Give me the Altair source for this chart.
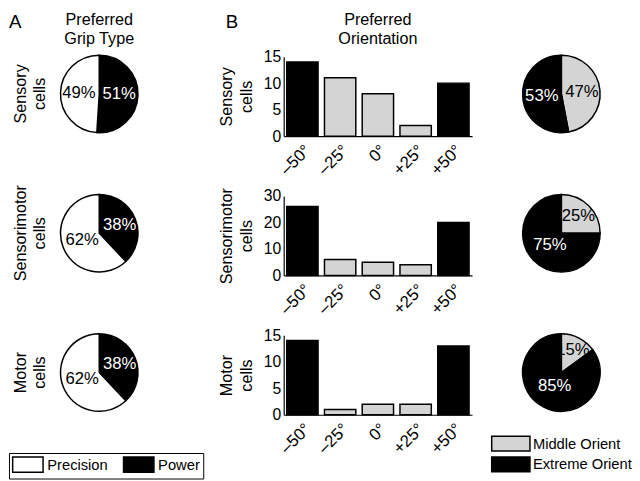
import altair as alt
import pandas as pd

FONT = "Liberation Sans"

# ---------------- data ----------------
rows = ["Sensory", "Sensorimotor", "Motor"]

angles = ["–50°", "–25°", "0°", "+25°", "+50°"]
angle_type = ["Extreme Orient", "Middle Orient", "Middle Orient", "Middle Orient", "Extreme Orient"]
sensory_counts = [14, 11, 8, 2, 10]
sensorimotor_counts = [26, 6, 5, 4, 20]
motor_counts = [14, 1, 2, 2, 13]
counts = {"Sensory": sensory_counts, "Sensorimotor": sensorimotor_counts, "Motor": motor_counts}
y_ticks = {"Sensory": [0, 5, 10, 15], "Sensorimotor": [0, 10, 20, 30], "Motor": [0, 5, 10, 15]}

grip_cats = ["Power", "Precision"]          # stacking order (clockwise from 12 o'clock)
grip_legend = ["Precision", "Power"]
grip_pct = {"Sensory": [51, 49], "Sensorimotor": [38, 62], "Motor": [38, 62]}

orient_cats = ["Middle Orient", "Extreme Orient"]
orient_pct = {"Sensory": [47, 53], "Sensorimotor": [25, 75], "Motor": [15, 85]}

panel_letters = ["A", "B"]
panel_titles = ["Preferred\nGrip Type", "Preferred\nOrientation"]

GRAY = "#d4d4d4"


def letter_layer(letter, x):
    return alt.Chart(pd.DataFrame({"t": [letter]})).mark_text(
        fontSize=19, font=FONT, align="left", baseline="top", color="black"
    ).encode(text="t:N", x=alt.value(x), y=alt.value(-44))


def title_layer(title, x):
    return alt.Chart(pd.DataFrame({"t": [title]})).mark_text(
        fontSize=16.5, font=FONT, align="center", baseline="top", lineBreak="\n",
        lineHeight=19, color="black"
    ).encode(text="t:N", x=alt.value(x), y=alt.value(-45))


def pie(row, cats, pcts, domain, rng, dark, legend, extra=(), row_label=False):
    df = pd.DataFrame({
        "cat": cats,
        "pct": pcts,
        "idx": list(range(len(cats))),
        "lab": [f"{p}%" for p in pcts],
    })
    base = alt.Chart(df).encode(
        theta=alt.Theta("pct:Q", stack=True),
        order=alt.Order("idx:Q"),
    )
    arc = base.mark_arc(outerRadius=39.5, stroke="black", strokeWidth=1.5).encode(
        color=alt.Color("cat:N", scale=alt.Scale(domain=domain, range=rng), legend=legend)
    )
    # small slices get their label a little further out, as in the original
    txt = base.mark_text(fontSize=17, font=FONT).encode(
        text=alt.Text("lab:N"),
        radius=alt.Radius("pct:Q", scale=alt.Scale(type="linear", zero=False,
                                                   domain=[15, 85], range=[26, 15])),
        color=alt.condition(alt.datum.cat == dark, alt.value("white"), alt.value("black")),
    )
    layers = [arc, txt]
    if row_label:
        layers.append(
            alt.Chart(pd.DataFrame({"t": [row + "\ncells"]})).mark_text(
                angle=270, lineBreak="\n", lineHeight=20, fontSize=16.5, font=FONT,
                align="center", baseline="middle", color="black"
            ).encode(text="t:N", x=alt.value(-40), y=alt.value(38))
        )
    layers += list(extra)
    return alt.layer(*layers).properties(width=80, height=76)


def bars(row, extra=()):
    df = pd.DataFrame({"angle": angles, "n": counts[row], "type": angle_type})
    b = alt.Chart(df).mark_bar(stroke="black", strokeWidth=1.5).encode(
        x=alt.X("angle:N", sort=angles,
                scale=alt.Scale(paddingInner=0.17, paddingOuter=0.08),
                axis=alt.Axis(title=None, labelAngle=-45, ticks=False, tickSize=0,
                              labelPadding=6, labelFontSize=17, domainWidth=1.2)),
        y=alt.Y("n:Q", scale=alt.Scale(domain=[0, y_ticks[row][-1]], nice=False),
                axis=alt.Axis(values=y_ticks[row], title=[row, "cells"], ticks=False, tickSize=0,
                              labelPadding=3, labelFontSize=16, titleFontSize=16.5,
                              titleFontWeight="normal", titleLineHeight=20, titlePadding=9,
                              domainWidth=1.2)),
        color=alt.Color("type:N", scale=alt.Scale(domain=orient_cats, range=[GRAY, "black"]), legend=None),
    )
    return alt.layer(b, *extra).properties(width=192, height=81)


spacer = alt.Chart(pd.DataFrame({"v": [0]})).mark_point(opacity=0).properties(width=46, height=10)

grip_legend_obj = alt.Legend(
    title=None, orient="none", legendX=-52, legendY=120, direction="horizontal", columns=2,
    strokeColor="black", padding=3, symbolType="M-1,-1H3V1H-1Z", symbolSize=240,
    symbolStrokeColor="black", symbolStrokeWidth=1.5, symbolOpacity=1, labelOffset=19,
    columnPadding=12, labelFontSize=15, labelFont=FONT, labelColor="black",
)
orient_legend_obj = alt.Legend(
    title=None, orient="none", legendX=-32, legendY=102, direction="vertical",
    padding=0, symbolType="M-1,-1H4.2V1H-1Z", symbolSize=225,
    symbolStrokeColor="black", symbolStrokeWidth=1.5, symbolOpacity=1, labelOffset=26,
    rowPadding=0, labelFontSize=15, labelFont=FONT, labelColor="black",
)

cells = []
for i, row in enumerate(rows):
    first = i == 0
    last = i == len(rows) - 1
    pa_extra = [letter_layer(panel_letters[0], -52), title_layer(panel_titles[0], 40)] if first else []
    br_extra = [letter_layer(panel_letters[1], -59), title_layer(panel_titles[1], 96)] if first else []
    pa = pie(row, grip_cats, grip_pct[row], grip_legend, ["white", "black"], "Power",
             grip_legend_obj if last else None, extra=pa_extra, row_label=True)
    br = bars(row, extra=br_extra)
    pb = pie(row, orient_cats, orient_pct[row], orient_cats, [GRAY, "black"], "Extreme Orient",
             orient_legend_obj if last else None)
    cells += [pa, spacer, br, pb]

chart = alt.concat(
    *cells, columns=4, spacing={"row": 61, "column": 51}, bounds="flush", align="each"
).resolve_scale(
    color="independent", theta="independent", radius="independent"
).properties(
    padding=0
).configure_view(
    stroke=None
).configure_axis(
    labelFont=FONT, titleFont=FONT, labelColor="black", titleColor="black",
    domainColor="black", grid=False,
).configure_text(font=FONT)

chart.save("out.html", embed_options={"renderer": "svg", "actions": False})
